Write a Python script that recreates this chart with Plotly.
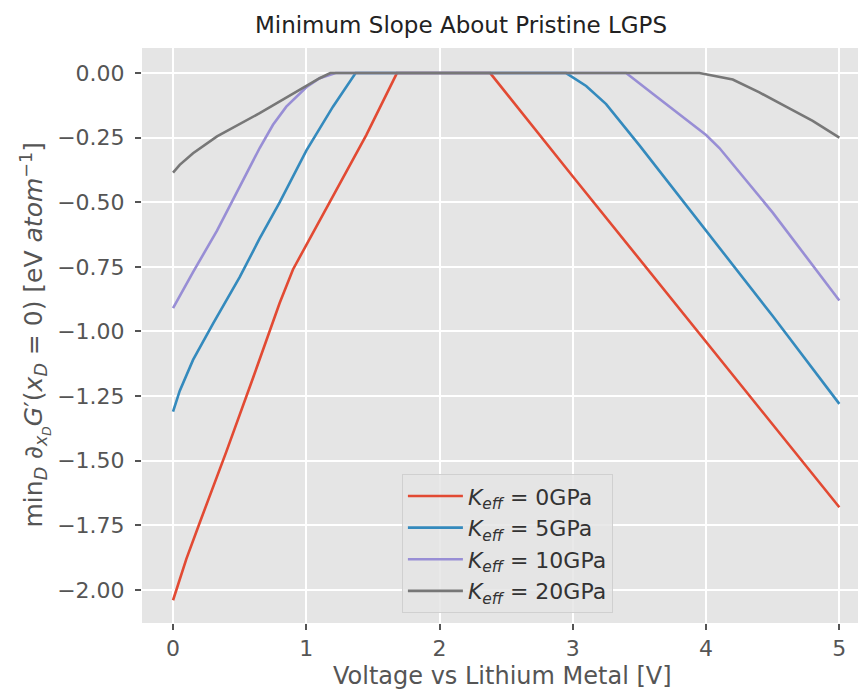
import plotly.graph_objects as go

# ---- data ----
voltage_k0 = [0, 0.1, 0.2, 0.4, 0.6, 0.8, 0.9, 1.0, 1.2, 1.45, 1.68, 2.0, 2.38, 3.0, 3.5, 4.0, 4.5, 5.0]
slope_k0 = [-2.04, -1.88, -1.74, -1.465, -1.18, -0.89, -0.76, -0.665, -0.475, -0.24, 0.0, 0.0, 0.0, -0.40, -0.72, -1.04, -1.36, -1.68]

voltage_k5 = [0, 0.05, 0.15, 0.3, 0.5, 0.65, 0.8, 1.0, 1.2, 1.37, 2.0, 2.95, 3.1, 3.25, 3.5, 4.0, 4.5, 5.0]
slope_k5 = [-1.31, -1.23, -1.11, -0.97, -0.79, -0.64, -0.50, -0.30, -0.13, 0.0, 0.0, 0.0, -0.05, -0.12, -0.28, -0.61, -0.94, -1.28]

voltage_k10 = [0, 0.15, 0.33, 0.5, 0.65, 0.75, 0.85, 1.0, 1.1, 1.22, 2.0, 3.4, 3.6, 3.8, 4.0, 4.1, 4.5, 5.0]
slope_k10 = [-0.91, -0.77, -0.61, -0.44, -0.29, -0.20, -0.13, -0.055, -0.02, 0.0, 0.0, 0.0, -0.08, -0.16, -0.24, -0.29, -0.54, -0.88]

voltage_k20 = [0, 0.05, 0.15, 0.33, 0.65, 0.95, 1.1, 1.18, 2.0, 3.95, 4.2, 4.4, 4.6, 4.8, 5.0]
slope_k20 = [-0.385, -0.355, -0.31, -0.245, -0.155, -0.066, -0.02, 0.0, 0.0, 0.0, -0.025, -0.075, -0.13, -0.185, -0.25]

series_labels = ["0GPa", "5GPa", "10GPa", "20GPa"]
series_colors = ["#E24A33", "#348ABD", "#988ED5", "#777777"]
x_ticks = [0, 1, 2, 3, 4, 5]
y_ticks = [0.0, -0.25, -0.5, -0.75, -1.0, -1.25, -1.5, -1.75, -2.0]

FONT = "DejaVu Sans"

fig = go.Figure()
for xs, ys, lab, col in zip(
    [voltage_k0, voltage_k5, voltage_k10, voltage_k20],
    [slope_k0, slope_k5, slope_k10, slope_k20],
    series_labels, series_colors,
):
    fig.add_trace(go.Scatter(
        x=xs, y=ys, mode="lines",
        name="<i>K</i><sub><i>eff</i></sub> = " + lab,
        line=dict(color=col, width=2.6),
    ))

axis_common = dict(
    showgrid=True, gridcolor="white", gridwidth=1.6,
    zeroline=False, showline=False,
    ticks="outside", ticklen=6, tickwidth=1.5, tickcolor="#555555",
    tickfont=dict(family=FONT, size=22, color="#555555"),
)

fig.update_layout(
    width=861, height=693,
    margin=dict(l=142, r=3, t=48, b=70),
    paper_bgcolor="white", plot_bgcolor="#E5E5E5",
    font=dict(family=FONT, color="#555555"),
    title=dict(
        text="Minimum Slope About Pristine LGPS",
        font=dict(family=FONT, size=23, color="#222222"),
        xref="container", x=461 / 861, xanchor="center",
        yref="container", y=1 - 25 / 693, yanchor="middle",
    ),
    xaxis=dict(range=[-0.233, 5.14], tickvals=x_ticks,
               ticktext=[str(v) for v in x_ticks], **axis_common),
    yaxis=dict(range=[-2.128, 0.097], tickvals=y_ticks,
               ticktext=[("−" if v < 0 else "") + f"{abs(v):.2f}" for v in y_ticks],
               ticklabelstandoff=6, **axis_common),
    legend=dict(
        x=0.363, y=0.017, xanchor="left", yanchor="bottom",
        bgcolor="rgba(229,229,229,0.85)", bordercolor="#D0D0D0", borderwidth=1,
        font=dict(family=FONT, size=22, color="#333333"),
        itemwidth=55,
    ),
    showlegend=True,
)

fig.add_annotation(
    text="Voltage vs Lithium Metal [V]",
    xref="paper", yref="paper", x=0.503, y=(623 - 676) / 575,
    xanchor="center", yanchor="middle", showarrow=False,
    font=dict(family=FONT, size=24, color="#555555"),
)
fig.add_annotation(
    text="min<sub><i>D</i></sub> ∂<sub><i>x<sub>D</sub></i></sub><i>G</i>′(<i>x</i><sub><i>D</i></sub> = 0) [eV <i>atom</i><sup>−1</sup>]",
    xref="paper", yref="paper", x=(34 - 142) / 716, y=0.5,
    xanchor="center", yanchor="middle", showarrow=False, textangle=-90,
    font=dict(family=FONT, size=25, color="#555555"),
)

fig.write_html("out.html")
